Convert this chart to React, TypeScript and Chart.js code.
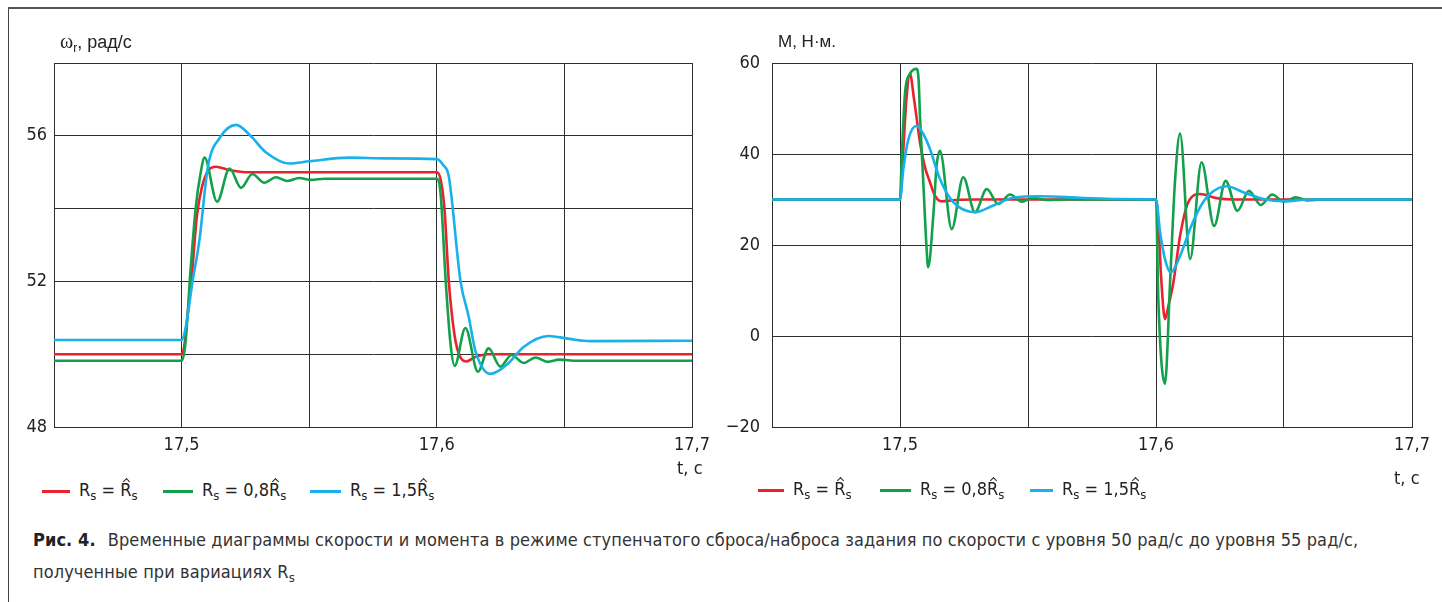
import React, { useEffect, useRef } from 'react';
import { Chart, registerables } from 'chart.js';

Chart.register(...registerables);

type P = [number, number];

// ---------- data: time (s) / rotor speed (rad/s) ----------
const speedRed: P[] = [
  [17.45, 50], [17.5, 50], [17.501, 50.2], [17.5025, 51.2], [17.5038, 52.0], [17.506, 53.8],
  [17.508, 54.6], [17.5105, 55.05], [17.5135, 55.15], [17.518, 55.07], [17.525, 55.0],
  [17.6, 55.0], [17.6015, 54.8], [17.603, 54.0], [17.6047, 52.0], [17.607, 50.5],
  [17.609, 49.95], [17.6115, 49.8], [17.615, 49.92], [17.62, 50.0], [17.7, 50.0],
];
const speedGreen: P[] = [
  [17.45, 49.82], [17.5, 49.82], [17.5015, 50.3], [17.5035, 52.3], [17.5055, 54.0], [17.5075, 55.0],
  [17.509, 55.4], [17.5139, 54.19], [17.5188, 55.1], [17.5233, 54.57], [17.5277, 54.95],
  [17.5324, 54.71], [17.537, 54.86], [17.5414, 54.76], [17.546, 54.84], [17.5508, 54.79],
  [17.556, 54.82], [17.6, 54.82], [17.6015, 54.4], [17.6035, 52.0], [17.6055, 50.2],
  [17.607, 49.68], [17.6112, 50.72], [17.6161, 49.52], [17.6203, 50.16], [17.6249, 49.66],
  [17.6293, 49.98], [17.634, 49.76], [17.6387, 49.91], [17.6434, 49.79], [17.648, 49.85],
  [17.655, 49.82], [17.7, 49.82],
];
const speedBlue: P[] = [
  [17.45, 50.39], [17.5, 50.39], [17.5015, 50.7], [17.5043, 52.0], [17.507, 53.14], [17.5103, 55.15],
  [17.515, 55.95], [17.5214, 56.3], [17.527, 56.0], [17.533, 55.55], [17.5422, 55.24],
  [17.55, 55.3], [17.5656, 55.4], [17.58, 55.38], [17.6, 55.36], [17.6025, 55.2],
  [17.6047, 54.88], [17.6093, 52.0], [17.6125, 51.03], [17.6151, 50.1], [17.621, 49.46],
  [17.628, 49.75], [17.634, 50.2], [17.6438, 50.5], [17.652, 50.42], [17.66, 50.36], [17.7, 50.37],
];

// ---------- data: time (s) / torque (N·m) ----------
const torqueRed: P[] = [
  [17.45, 30], [17.5, 30], [17.5012, 40], [17.5025, 52], [17.5039, 57.6], [17.5055, 52],
  [17.5078, 42.6], [17.5098, 37], [17.5117, 33.8], [17.5135, 31], [17.516, 29.6],
  [17.522, 29.9], [17.53, 30], [17.6, 30], [17.601, 24], [17.602, 13], [17.6035, 3.7],
  [17.6048, 6.5], [17.6068, 11.8], [17.6094, 22], [17.6126, 29.4], [17.6172, 31.2],
  [17.6237, 30.3], [17.63, 30], [17.7, 30],
];
const torqueGreen: P[] = [
  [17.45, 30], [17.5, 30], [17.5007, 39.6], [17.502, 53.6], [17.5039, 57.6], [17.5065, 58.7],
  [17.5073, 56], [17.5078, 48.4], [17.5091, 33.8], [17.5104, 19.1], [17.511, 15.1],
  [17.513, 26.4], [17.5143, 37.4], [17.5156, 40.7], [17.5202, 23.5], [17.5247, 34.9],
  [17.5293, 27.2], [17.5339, 32.3], [17.5384, 29.0], [17.543, 31.1], [17.5476, 29.5],
  [17.552, 30.4], [17.557, 29.9], [17.565, 30], [17.6, 30], [17.6009, 8.1], [17.6035, -10.5],
  [17.6055, 11.8], [17.6074, 33.8], [17.6094, 44.5], [17.6133, 16.9], [17.6178, 38.2],
  [17.6227, 24.2], [17.6272, 34.1], [17.6318, 27.5], [17.6363, 31.9], [17.6409, 28.8],
  [17.6454, 31.1], [17.65, 29.5], [17.6546, 30.5], [17.659, 29.8], [17.665, 30], [17.7, 30],
];
const torqueBlue: P[] = [
  [17.45, 30], [17.5, 30], [17.5013, 36.7], [17.5033, 43.3], [17.5065, 46.2], [17.509, 44.5],
  [17.5117, 41.1], [17.5156, 34.5], [17.5208, 29.4], [17.5293, 27.2], [17.5365, 28.7],
  [17.5443, 30.4], [17.555, 30.7], [17.57, 30.4], [17.585, 30.1], [17.6, 30],
  [17.6016, 22.8], [17.6035, 16.9], [17.6057, 14.0], [17.6094, 17.6], [17.6133, 23.5],
  [17.6172, 28.3], [17.6211, 31.2], [17.6276, 32.9], [17.6341, 31.6], [17.6419, 30.1],
  [17.6497, 29.6], [17.66, 30], [17.7, 30],
];

// ---------- ticks ----------
const timeTickValues = [17.45, 17.5, 17.55, 17.6, 17.65, 17.7];
const timeTickLabels = ['', '17,5', '', '17,6', '', '17,7'];
const speedTickValues = [48, 50, 52, 54, 56, 58];
const speedTickLabels = ['48', '', '52', '', '56', ''];
const torqueTickValues = [-20, 0, 20, 40, 60];
const torqueTickLabels = ['\u221220', '0', '20', '40', '60'];

const RED = '#e8232b';
const GREEN = '#12a04a';
const BLUE = '#19b1ea';
const GRID = '#2e2e2e';
const NARROW = '"Liberation Sans Narrow", "DejaVu Sans Condensed", Roboto, sans-serif';
const REG = '"Liberation Sans", Arial, sans-serif';

type PlotProps = {
  left: number;
  width: number;
  height: number;
  plotLeft: number;
  plotRight: number;
  plotTop: number;
  plotBottom: number;
  yTickValues: number[];
  yTickLabels: string[];
  yPad: number;
  red: P[];
  green: P[];
  blue: P[];
};

function Plot(p: PlotProps) {
  const ref = useRef<HTMLCanvasElement>(null);
  useEffect(() => {
    const mk = (pts: P[], color: string, order: number) => ({
      data: pts.map(([x, y]) => ({ x, y })),
      borderColor: color,
      borderWidth: 2.6,
      pointRadius: 0,
      fill: false,
      cubicInterpolationMode: 'monotone' as const,
      order,
    });
    const chart = new Chart(ref.current!, {
      type: 'line',
      data: { datasets: [mk(p.red, RED, 2), mk(p.green, GREEN, 1), mk(p.blue, BLUE, 0)] },
      options: {
        responsive: false,
        maintainAspectRatio: false,
        animation: false,
        layout: { padding: { left: 0, top: p.plotTop, right: p.width - p.plotRight, bottom: 0 } },
        plugins: { legend: { display: false }, tooltip: { enabled: false } },
        scales: {
          x: {
            type: 'linear',
            min: timeTickValues[0],
            max: timeTickValues[timeTickValues.length - 1],
            afterBuildTicks: (axis: any) => {
              axis.ticks = timeTickValues.map((v) => ({ value: v }));
            },
            afterFit: (axis: any) => {
              axis.height = p.height - p.plotBottom;
            },
            grid: { color: GRID, lineWidth: 1, drawTicks: false },
            border: { display: true, color: GRID, width: 1 },
            ticks: {
              autoSkip: false,
              maxRotation: 0,
              padding: 8,
              color: '#222',
              font: { family: NARROW, size: 18 },
              callback: (_v: any, i: number) => timeTickLabels[i],
            },
          },
          y: {
            type: 'linear',
            min: p.yTickValues[0],
            max: p.yTickValues[p.yTickValues.length - 1],
            afterBuildTicks: (axis: any) => {
              axis.ticks = p.yTickValues.map((v) => ({ value: v }));
            },
            afterFit: (axis: any) => {
              axis.width = p.plotLeft;
            },
            grid: { color: GRID, lineWidth: 1, drawTicks: false },
            border: { display: true, color: GRID, width: 1 },
            ticks: {
              padding: p.yPad,
              color: '#222',
              font: { family: NARROW, size: 18 },
              callback: (_v: any, i: number) => p.yTickLabels[i],
            },
          },
        },
      },
    } as any);
    return () => chart.destroy();
  }, []);
  return (
    <canvas
      ref={ref}
      width={p.width}
      height={p.height}
      style={{ position: 'absolute', left: p.left, top: 0, width: p.width, height: p.height }}
    />
  );
}

const Hat = ({ children }: { children: string }) => (
  <span style={{ position: 'relative', display: 'inline-block' }}>
    {children}
    <span
      style={{
        position: 'absolute',
        left: 4,
        top: 0,
        width: 4,
        height: 4,
        borderLeft: '1.3px solid #222',
        borderTop: '1.3px solid #222',
        transform: 'rotate(45deg)',
      }}
    />
  </span>
);
const Sub = ({ children }: { children: string }) => (
  <span style={{ fontSize: 13, verticalAlign: '-0.3em' }}>{children}</span>
);

function LegendItem({ x, y, color, lineW, coef }: { x: number; y: number; color: string; lineW: number; coef: string }) {
  return (
    <div style={{ position: 'absolute', left: x, top: y - 12, height: 24, display: 'flex', alignItems: 'center', whiteSpace: 'nowrap', font: `18px ${NARROW}`, color: '#222' }}>
      <span style={{ display: 'inline-block', width: lineW, height: 3, background: color, marginRight: 9 }} />
      <span>
        R<Sub>s</Sub> = {coef}
        <Hat>R</Hat>
        <Sub>s</Sub>
      </span>
    </div>
  );
}

export default function App() {
  return (
    <div style={{ position: 'absolute', left: 0, top: 0, width: 1442, height: 602, background: '#fff', overflow: 'hidden' }}>
      <div style={{ position: 'absolute', left: 8, top: 7, width: 1450, height: 620, borderTop: '2px solid #555', borderLeft: '1px solid #444' }} />

      <Plot left={0} width={720} height={470} plotLeft={54} plotRight={692} plotTop={63} plotBottom={427}
        yTickValues={speedTickValues} yTickLabels={speedTickLabels} yPad={7}
        red={speedRed} green={speedGreen} blue={speedBlue} />
      <Plot left={718} width={724} height={470} plotLeft={54} plotRight={694} plotTop={63} plotBottom={427}
        yTickValues={torqueTickValues} yTickLabels={torqueTickLabels} yPad={12}
        red={torqueRed} green={torqueGreen} blue={torqueBlue} />

      <div style={{ position: 'absolute', left: 60, top: 30, font: `18px ${REG}`, color: '#222', whiteSpace: 'nowrap' }}>
        <span style={{ fontFamily: '"Liberation Serif", serif', fontSize: 20 }}>ω</span>
        <span style={{ fontSize: 12, verticalAlign: '-0.35em' }}>r</span>, рад/с
      </div>
      <div style={{ position: 'absolute', left: 778, top: 32, font: `17px ${REG}`, color: '#222', whiteSpace: 'nowrap' }}>
        М, Н·м.
      </div>

      <div style={{ position: 'absolute', left: 677, top: 457, font: `18px ${NARROW}`, color: '#222' }}>t, с</div>
      <div style={{ position: 'absolute', left: 1394, top: 467, font: `18px ${NARROW}`, color: '#222' }}>t, с</div>

      <LegendItem x={42} y={491} color={RED} lineW={28} coef="" />
      <LegendItem x={163} y={491} color={GREEN} lineW={30} coef="0,8" />
      <LegendItem x={310} y={491} color={BLUE} lineW={31} coef="1,5" />
      <LegendItem x={758} y={490} color={RED} lineW={26} coef="" />
      <LegendItem x={880} y={490} color={GREEN} lineW={31} coef="0,8" />
      <LegendItem x={1030} y={490} color={BLUE} lineW={23} coef="1,5" />

      <div style={{ position: 'absolute', left: 33, top: 529, font: `18px ${NARROW}`, color: '#333', whiteSpace: 'nowrap', letterSpacing: 0.1 }}>
        <b style={{ color: '#222', marginRight: 12 }}>Рис. 4.</b>Временные диаграммы скорости и момента в режиме ступенчатого сброса/наброса задания по скорости с уровня 50 рад/с до уровня 55 рад/с,
      </div>
      <div style={{ position: 'absolute', left: 33, top: 561, font: `18px ${NARROW}`, color: '#333', whiteSpace: 'nowrap', letterSpacing: 0.1 }}>
        полученные при вариациях R<Sub>s</Sub>
      </div>
    </div>
  );
}
